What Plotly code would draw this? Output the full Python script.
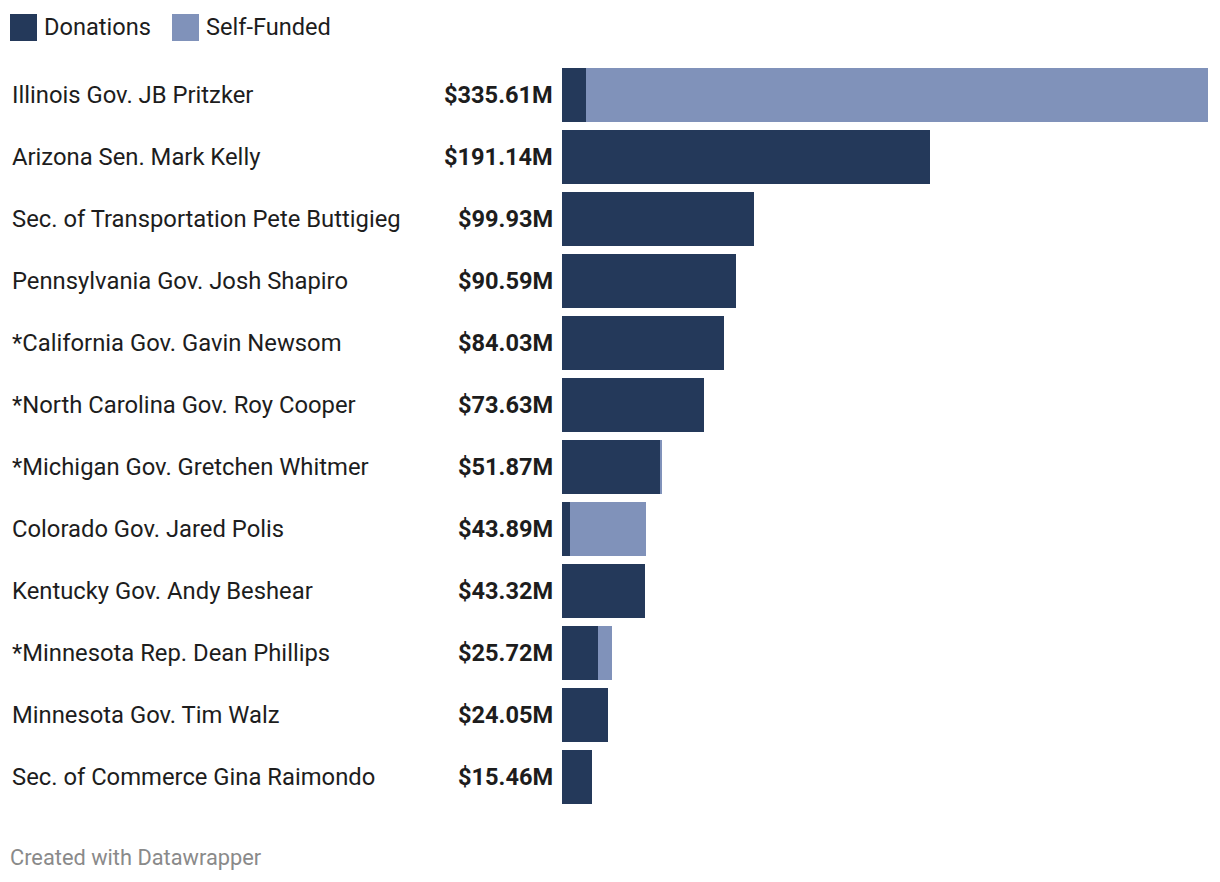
import plotly.graph_objects as go

names = [
    "Illinois Gov. JB Pritzker",
    "Arizona Sen. Mark Kelly",
    "Sec. of Transportation Pete Buttigieg",
    "Pennsylvania Gov. Josh Shapiro",
    "*California Gov. Gavin Newsom",
    "*North Carolina Gov. Roy Cooper",
    "*Michigan Gov. Gretchen Whitmer",
    "Colorado Gov. Jared Polis",
    "Kentucky Gov. Andy Beshear",
    "*Minnesota Rep. Dean Phillips",
    "Minnesota Gov. Tim Walz",
    "Sec. of Commerce Gina Raimondo",
]
donations = [12.47, 191.14, 99.93, 90.59, 84.03, 73.63, 51.00, 4.16, 43.32, 18.70, 24.05, 15.46]
self_funded = [323.14, 0, 0, 0, 0, 0, 0.87, 39.73, 0, 7.02, 0, 0]
totals = ["$335.61M", "$191.14M", "$99.93M", "$90.59M", "$84.03M", "$73.63M",
          "$51.87M", "$43.89M", "$43.32M", "$25.72M", "$24.05M", "$15.46M"]

DARK = "#24395a"
LIGHT = "#8092ba"
FONT = "Roboto"
TXT = "#1d1d1d"
W, H = 1220, 882

fig = go.Figure()
fig.add_trace(go.Bar(y=names, x=donations, orientation="h", name="Donations",
                     marker=dict(color=DARK, line=dict(width=0)), width=0.87,
                     hoverinfo="x+y"))
fig.add_trace(go.Bar(y=names, x=self_funded, orientation="h", name="Self-Funded",
                     marker=dict(color=LIGHT, line=dict(width=0)), width=0.87,
                     hoverinfo="x+y"))

annotations = []
for n, t in zip(names, totals):
    annotations.append(dict(x=10 / W, xref="paper", y=n, yref="y", text=n,
                            showarrow=False, xanchor="left", yanchor="middle",
                            font=dict(family=FONT, size=23.8, color=TXT)))
    annotations.append(dict(x=555 / W, xref="paper", y=n, yref="y", text="<b>" + t + "</b>",
                            showarrow=False, xanchor="right", yanchor="middle",
                            font=dict(family=FONT, size=23.6, color=TXT)))


def py(ypx):
    return 1 - ypx / H


shapes = [
    dict(type="rect", xref="paper", yref="paper", x0=10 / W, x1=37 / W,
         y0=py(41), y1=py(14), fillcolor=DARK, line=dict(width=0)),
    dict(type="rect", xref="paper", yref="paper", x0=172 / W, x1=199 / W,
         y0=py(41), y1=py(14), fillcolor=LIGHT, line=dict(width=0)),
]
annotations.append(dict(x=42 / W, xref="paper", y=py(27), yref="paper", text="Donations",
                        showarrow=False, xanchor="left", yanchor="middle",
                        font=dict(family=FONT, size=23.6, color=TXT)))
annotations.append(dict(x=204 / W, xref="paper", y=py(27), yref="paper", text="Self-Funded",
                        showarrow=False, xanchor="left", yanchor="middle",
                        font=dict(family=FONT, size=23.6, color=TXT)))
annotations.append(dict(x=8 / W, xref="paper", y=py(857), yref="paper",
                        text="Created with Datawrapper",
                        showarrow=False, xanchor="left", yanchor="middle",
                        font=dict(family=FONT, size=21.8, color="#8a8a8a")))

fig.update_layout(
    width=W, height=H,
    barmode="stack",
    bargap=0,
    showlegend=False,
    plot_bgcolor="white", paper_bgcolor="white",
    margin=dict(l=0, r=0, t=0, b=0, pad=0),
    xaxis=dict(domain=[562 / W, 1208 / W], range=[0, 335.61], visible=False, fixedrange=True),
    yaxis=dict(domain=[py(808), py(64)], autorange="reversed", visible=False,
               categoryorder="array", categoryarray=names, fixedrange=True),
    annotations=annotations,
    shapes=shapes,
    font=dict(family=FONT),
)

fig.write_html("out.html", config={"displayModeBar": False},
               post_script="document.body.style.margin='0';document.body.style.overflow='hidden';")
